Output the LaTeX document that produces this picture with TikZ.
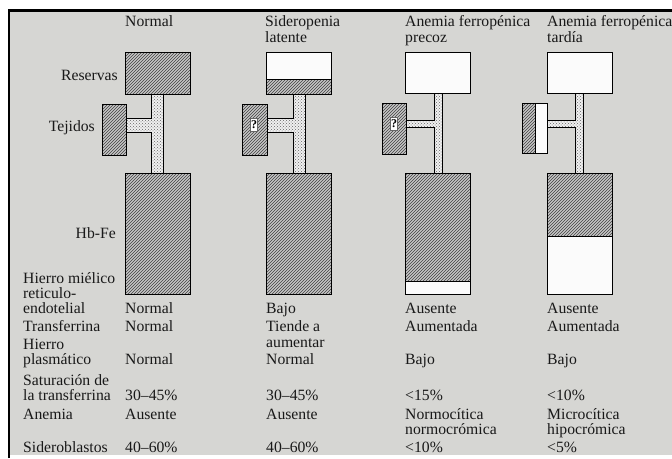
\documentclass[tikz,border=0pt]{standalone}
\usepackage{fontspec}
\setmainfont{Liberation Serif}
\usetikzlibrary{patterns}
\definecolor{bg}{RGB}{214,214,211}
\tikzset{
  hatch/.style={draw=black, line width=0.9pt, preaction={fill=gray!45}, pattern=north east lines, pattern color=black!75},
  emptybox/.style={draw=black, line width=0.9pt, fill=white!97!gray},
  dotbar/.style={draw=black, line width=0.8pt, preaction={fill=gray!12}, pattern=crosshatch dots, pattern color=black!60},
  txt/.style={anchor=base west, inner sep=0pt, text=black!90, font=\fontsize{15.7}{16}\selectfont},
  lbl/.style={anchor=base east, inner sep=0pt, text=black!90, font=\fontsize{15.7}{16}\selectfont},
  qmark/.style={fill=white, draw=black!60, line width=0.3pt, inner sep=0pt, minimum width=7pt, minimum height=13pt, font=\fontsize{12}{12}\selectfont\bfseries},
}
\begin{document}
\begin{tikzpicture}[x=1pt,y=-1pt]
\useasboundingbox (0,0) rectangle (672,458);
% background and frame
\fill[bg] (9,11) rectangle (672,455);
\draw[line width=2.5pt] (9,458) -- (9,10.5) -- (672,10.5);

% ---------- column 1: Normal ----------
\draw[dotbar] (151,94) -- (163,94) -- (163,173) -- (151,173) -- (151,132) -- (126,132) -- (126,118) -- (151,118) -- cycle;
\draw[hatch] (125,52) rectangle (190,94);
\draw[hatch] (102,104) rectangle (126,155);
\draw[hatch] (125,173) rectangle (190,294);

% ---------- column 2: Sideropenia latente ----------
\draw[dotbar] (293,94) -- (305,94) -- (305,173) -- (293,173) -- (293,132) -- (267,132) -- (267,118) -- (293,118) -- cycle;
\draw[emptybox] (266,52) rectangle (331,94);
\draw[hatch] (266,79) rectangle (331,94);
\draw[hatch] (242,104) rectangle (267,155);
\node[qmark] (q2) at (254,125) {?};
\draw[hatch] (266,173) rectangle (331,294);

% ---------- column 3: Anemia ferropenica precoz ----------
\draw[dotbar] (434,93) -- (442,93) -- (442,173) -- (434,173) -- (434,127) -- (406,127) -- (406,120) -- (434,120) -- cycle;
\draw[emptybox] (405,52) rectangle (470,93);
\draw[hatch] (382,103) rectangle (406,154);
\node[qmark] (q3) at (394,124) {?};
\draw[emptybox] (405,173) rectangle (470,294);
\draw[hatch] (405,173) rectangle (470,281);

% ---------- column 4: Anemia ferropenica tardia ----------
\draw[dotbar] (575,93) -- (583,93) -- (583,173) -- (575,173) -- (575,127) -- (547,127) -- (547,120) -- (575,120) -- cycle;
\draw[emptybox] (547,52) rectangle (612,93);
\draw[emptybox] (522,103) rectangle (547,153);
\draw[hatch] (522,103) rectangle (535,153);
\draw[emptybox] (547,173) rectangle (612,294);
\draw[hatch] (547,173) rectangle (612,236);

% ---------- headers ----------
\node[txt] (h1) at (125,26) {Normal};
\node[txt] (h2a) at (265,26) {Sideropenia};
\node[txt] (h2b) at (265,42) {latente};
\node[txt] (h3a) at (405,26) {Anemia ferropénica};
\node[txt] (h3b) at (405,42) {precoz};
\node[txt] (h4a) at (547,26) {Anemia ferropénica};
\node[txt] (h4b) at (547,42) {tardía};

% ---------- side labels ----------
\node[lbl] (lres) at (118,80) {Reservas};
\node[lbl] (ltej) at (95,131) {Tejidos};
\node[lbl] (lhb) at (116,238) {Hb-Fe};

% ---------- table: row labels ----------
\node[txt] (r1a) at (23,283) {Hierro miélico};
\node[txt] (r1b) at (23,298) {reticulo-};
\node[txt] (r1c) at (23,313) {endotelial};
\node[txt] (r2) at (23,331) {Transferrina};
\node[txt] (r3a) at (23,349) {Hierro};
\node[txt] (r3b) at (23,364) {plasmático};
\node[txt] (r4a) at (23,385) {Saturación de};
\node[txt] (r4b) at (23,400) {la transferrina};
\node[txt] (r5) at (23,419) {Anemia};
\node[txt] (r6) at (23,452) {Sideroblastos};

% ---------- column 1 values ----------
\node[txt] (c1r1) at (125,313) {Normal};
\node[txt] (c1r2) at (125,331) {Normal};
\node[txt] (c1r3) at (125,364) {Normal};
\node[txt] (c1r4) at (125,400) {30--45\%};
\node[txt] (c1r5) at (125,419) {Ausente};
\node[txt] (c1r6) at (125,452) {40--60\%};

% ---------- column 2 values ----------
\node[txt] (c2r1) at (266,313) {Bajo};
\node[txt] (c2r2a) at (266,331) {Tiende a};
\node[txt] (c2r2b) at (266,347) {aumentar};
\node[txt] (c2r3) at (266,364) {Normal};
\node[txt] (c2r4) at (266,400) {30--45\%};
\node[txt] (c2r5) at (266,419) {Ausente};
\node[txt] (c2r6) at (266,452) {40--60\%};

% ---------- column 3 values ----------
\node[txt] (c3r1) at (405,313) {Ausente};
\node[txt] (c3r2) at (405,331) {Aumentada};
\node[txt] (c3r3) at (405,364) {Bajo};
\node[txt] (c3r4) at (405,400) {\textless15\%};
\node[txt] (c3r5a) at (405,419) {Normocítica};
\node[txt] (c3r5b) at (405,434) {normocrómica};
\node[txt] (c3r6) at (405,452) {\textless10\%};

% ---------- column 4 values ----------
\node[txt] (c4r1) at (547,313) {Ausente};
\node[txt] (c4r2) at (547,331) {Aumentada};
\node[txt] (c4r3) at (547,364) {Bajo};
\node[txt] (c4r4) at (547,400) {\textless10\%};
\node[txt] (c4r5a) at (547,419) {Microcítica};
\node[txt] (c4r5b) at (547,434) {hipocrómica};
\node[txt] (c4r6) at (547,452) {\textless5\%};
\end{tikzpicture}
\end{document}
